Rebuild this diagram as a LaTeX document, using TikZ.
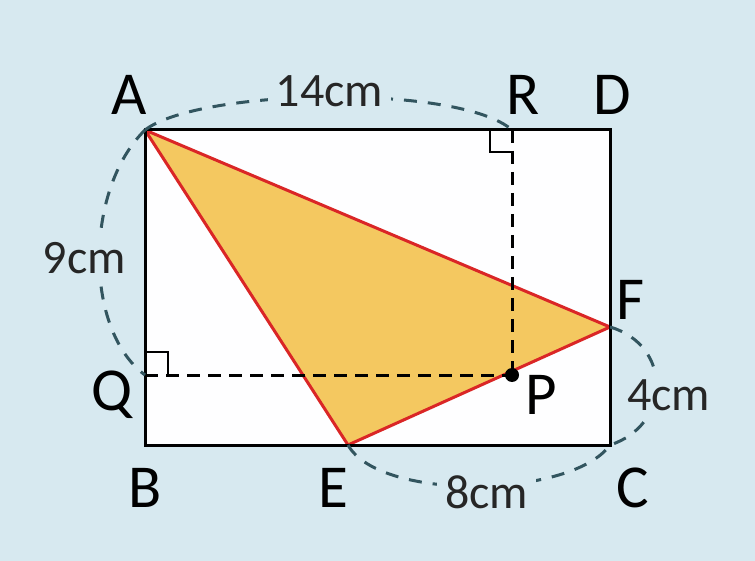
\documentclass[tikz,border=0pt]{standalone}
\usepackage{fontspec}
\setmainfont{Carlito}
\definecolor{bgblue}{RGB}{215,233,240}
\definecolor{arcteal}{RGB}{50,85,95}
\definecolor{triyellow}{RGB}{244,200,96}
\definecolor{trired}{RGB}{218,38,38}
\tikzset{
  pointlabel/.style={inner sep=0pt, font=\fontsize{61}{61}\selectfont},
  lenlabel/.style={fill=bgblue, inner sep=8pt, text=black!85, font=\fontsize{48}{48}\selectfont},
  lenarc/.style={arcteal, line width=3pt, dash pattern=on 13pt off 11pt},
  helper/.style={black, line width=3pt, dash pattern=on 13pt off 8pt},
}
\begin{document}
\begin{tikzpicture}[x=1pt, y=-1pt]
        % background
        \fill[bgblue] (0,0) rectangle (755,561);
        \useasboundingbox (0,0) rectangle (755,561);

        % corners of the rectangle and the other points
        \coordinate (A) at (145,130);
        \coordinate (D) at (610,130);
        \coordinate (B) at (145,445);
        \coordinate (C) at (610,445);
        \coordinate (F) at (610,327);
        \coordinate (E) at (348,445);
        \coordinate (P) at (512,375);
        \coordinate (R) at (512,130);
        \coordinate (Q) at (145,375);

        % rectangle ABCD
        \fill[white!98!bgblue] (A) rectangle (C);

        % shaded triangle AEF
        \fill[triyellow] (A) -- (E) -- (F) -- cycle;
        \draw[trired, line width=3pt, line join=round] (A) -- (E) -- (F) -- cycle;

        % helper lines through P
        \draw[helper] (R) -- (P);
        \draw[helper] (Q) -- (P);

        % right angle marks
        \draw[black, line width=2pt] (490,130) -- (490,152) -- (512,152);
        \draw[black, line width=2pt] (145,352) -- (168,352) -- (168,375);

        \draw[black, line width=3pt] (A) rectangle (C);
        \fill[black] (P) circle (7);

        % lengths (dashed arcs)
        \draw[lenarc] (A) .. controls (200,88) and (460,84) .. (R)
          node[pos=0.5, lenlabel, yshift=6pt] (l14) {14cm};
        \draw[lenarc] (A) .. controls (84,190) and (84,330) .. (Q)
          node[pos=0.5, lenlabel, xshift=-15pt] (l9) {9cm};
        \draw[lenarc] (F) .. controls (672,345) and (672,425) .. (C)
          node[pos=0.5, lenlabel, xshift=12pt, yshift=-10pt] (l4) {4cm};
        \draw[lenarc] (E) .. controls (380,502) and (572,498) .. (C)
          node[pos=0.5, lenlabel, xshift=10pt, yshift=-6pt] (l8) {8cm};

        % point labels
        \node[pointlabel] (lA) at (129,95) {A};
        \node[pointlabel] (lR) at (523,95) {R};
        \node[pointlabel] (lD) at (612,95) {D};
        \node[pointlabel] (lF) at (631,300) {F};
        \node[pointlabel] (lQ) at (112,395) {Q};
        \node[pointlabel] (lP) at (541,395) {P};
        \node[pointlabel] (lB) at (145,488) {B};
        \node[pointlabel] (lE) at (333,488) {E};
        \node[pointlabel] (lC) at (633,488) {C};
\end{tikzpicture}
\end{document}
